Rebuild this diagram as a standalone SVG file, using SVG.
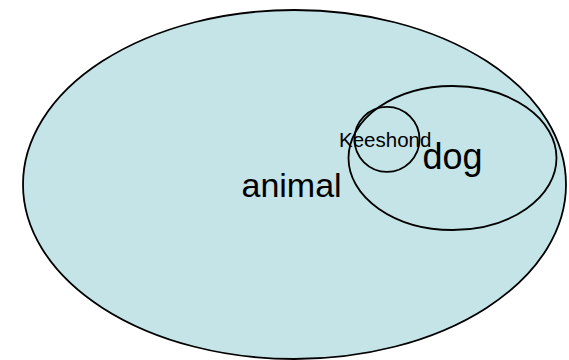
<svg xmlns="http://www.w3.org/2000/svg" width="569" height="360" viewBox="0 0 569 360">
<style>
.set{fill:none;stroke:#000;stroke-width:1.8}
.lbl{font-family:"Liberation Sans",Arial,sans-serif;fill:#000}
</style>
<rect width="569" height="360" fill="#fff"/>
<g id="animal">
<ellipse cx="294.5" cy="184.5" rx="271.5" ry="174.5" fill="#C5E4E7" stroke="#000" stroke-width="1.8"/>
<text class="lbl" x="241.5" y="196.7" font-size="34">animal</text>
</g>
<g id="dog">
<ellipse class="set" cx="452.5" cy="158" rx="104" ry="72"/>
<text class="lbl" x="422.5" y="169.3" font-size="36">dog</text>
</g>
<g id="keeshond">
<circle class="set" cx="387" cy="139.3" r="32.5"/>
<text class="lbl" x="339" y="146.7" font-size="20.5">Keeshond</text>
</g>
<g id="connectors"/>
</svg>
